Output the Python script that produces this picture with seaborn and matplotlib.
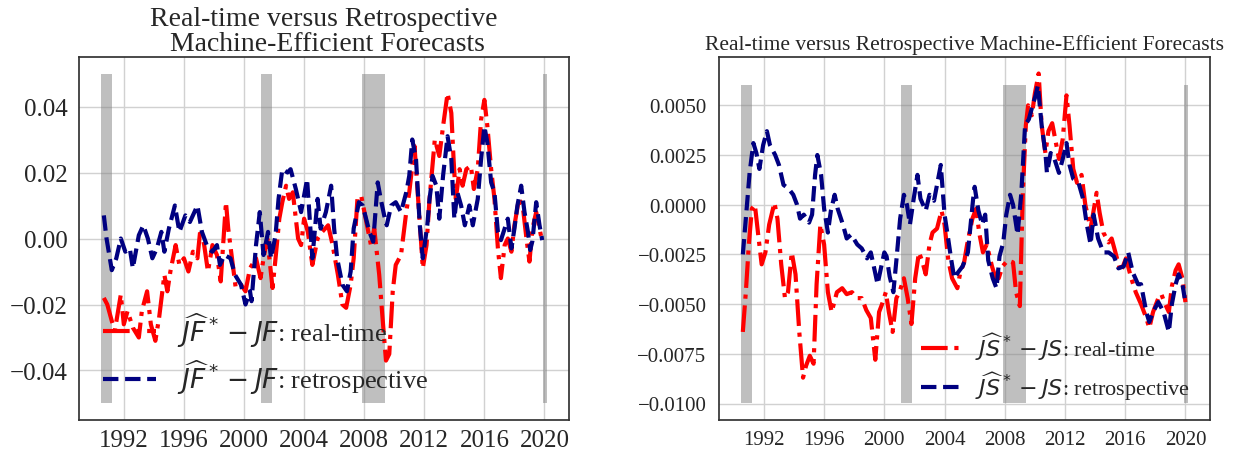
import matplotlib
matplotlib.use("Agg")
import matplotlib.pyplot as plt
import seaborn as sns

# ---------------- data ----------------
rec_start = [1990.5, 2001.1, 2007.85, 2019.9]
rec_end = [1991.2, 2001.85, 2009.4, 2020.15]

jf_rt_t = [1990.67, 1990.9, 1991.2, 1991.4, 1991.8, 1992.0, 1992.25, 1992.6, 1993.0, 1993.2,
           1993.55, 1993.8, 1994.1, 1994.35, 1994.7, 1994.9, 1995.1, 1995.45, 1995.7, 1996.0,
           1996.3, 1996.6, 1996.9, 1997.1, 1997.35, 1997.6, 1997.9, 1998.2, 1998.45, 1998.8,
           1998.95, 1999.2, 1999.45, 1999.8, 2000.1, 2000.4, 2000.8, 2001.1, 2001.3, 2001.55,
           2001.9, 2002.1, 2002.35, 2002.55, 2002.8, 2003.0, 2003.25, 2003.6, 2003.8, 2004.0,
           2004.25, 2004.55, 2004.9, 2005.2, 2005.6, 2005.9, 2006.25, 2006.55, 2006.8, 2007.1,
           2007.3, 2007.55, 2007.8, 2008.1, 2008.45, 2008.67, 2009.0, 2009.22, 2009.45, 2009.67,
           2009.9, 2010.1, 2010.45, 2010.8, 2011.0, 2011.35, 2011.56, 2011.8, 2011.9, 2012.15,
           2012.35, 2012.7, 2013.0, 2013.25, 2013.55, 2013.8, 2013.95, 2014.1, 2014.35, 2014.55,
           2014.8, 2015.1, 2015.3, 2015.56, 2015.78, 2016.0, 2016.2, 2016.45, 2016.67, 2016.9,
           2017.1, 2017.35, 2017.56, 2017.8, 2018.0, 2018.3, 2018.55, 2018.8, 2019.0, 2019.2,
           2019.45, 2019.67, 2019.85]
jf_rt_v = [-0.018, -0.020, -0.025, -0.028, -0.017, -0.026, -0.022, -0.027, -0.030, -0.022,
           -0.016, -0.026, -0.031, -0.024, -0.011, -0.016, -0.010, -0.002, -0.008, -0.006,
           -0.010, -0.004, -0.006, 0.003, -0.002, -0.010, -0.002, -0.005, -0.013, 0.011,
           0.003, -0.006, -0.015, -0.014, -0.016, -0.009, -0.006, -0.012, -0.006, 0.000,
           -0.015, -0.006, 0.006, 0.011, 0.016, 0.012, 0.014, 0.000, -0.002, 0.006,
           0.002, -0.008, 0.000, 0.002, 0.004, -0.002, -0.011, -0.020, -0.021, -0.014,
           -0.006, 0.012, 0.013, 0.006, -0.002, 0.003, -0.011, -0.024, -0.037, -0.035,
           -0.016, -0.008, -0.005, 0.008, 0.014, 0.028, 0.014, -0.002, -0.009, -0.002,
           0.012, 0.030, 0.025, 0.034, 0.044, 0.038, 0.024, 0.012, 0.021, 0.016,
           0.021, 0.022, 0.015, 0.021, 0.036, 0.042, 0.034, 0.021, 0.012, -0.003,
           -0.012, -0.002, 0.000, -0.004, 0.004, 0.012, 0.010, 0.000, -0.007, 0.003,
           0.008, 0.003, -0.001]

jf_re_t = [1990.67, 1990.85, 1991.2, 1991.5, 1991.8, 1992.1, 1992.4, 1992.6, 1993.0, 1993.3,
           1993.6, 1993.9, 1994.2, 1994.5, 1994.7, 1995.0, 1995.4, 1995.7, 1996.1, 1996.4,
           1996.9, 1997.2, 1997.6, 1997.9, 1998.2, 1998.4, 1998.7, 1999.1, 1999.4, 1999.8,
           2000.1, 2000.4, 2000.5, 2000.8, 2001.05, 2001.3, 2001.6, 2001.8, 2002.1, 2002.3,
           2002.55, 2002.9, 2003.1, 2003.45, 2003.8, 2004.0, 2004.2, 2004.55, 2004.9, 2005.1,
           2005.45, 2005.8, 2006.0, 2006.2, 2006.55, 2006.85, 2007.1, 2007.3, 2007.65, 2007.9,
           2008.35, 2008.6, 2008.9, 2009.1, 2009.33, 2009.5, 2009.8, 2010.1, 2010.45, 2010.8,
           2011.0, 2011.2, 2011.45, 2011.7, 2011.9, 2012.2, 2012.35, 2012.55, 2012.8, 2013.0,
           2013.25, 2013.55, 2013.8, 2014.0, 2014.2, 2014.45, 2014.7, 2015.0, 2015.23, 2015.56,
           2015.78, 2016.0, 2016.2, 2016.45, 2016.67, 2016.9, 2017.1, 2017.35, 2017.56, 2017.8,
           2018.0, 2018.2, 2018.45, 2018.67, 2018.9, 2019.05, 2019.2, 2019.45, 2019.67, 2019.85]
jf_re_v = [0.007, 0.000, -0.0096, -0.006, 0.000, -0.004, -0.003, -0.009, 0.001, 0.004,
           0.000, -0.006, -0.003, 0.002, -0.004, 0.003, 0.010, 0.002, 0.007, 0.005,
           0.010, 0.002, -0.003, -0.004, -0.002, -0.008, -0.005, -0.006, -0.011, -0.014,
           -0.020, -0.016, -0.019, -0.002, 0.008, -0.005, 0.002, -0.006, 0.001, 0.012,
           0.021, 0.020, 0.021, 0.015, 0.008, 0.013, 0.018, -0.006, 0.012, 0.003,
           0.008, 0.016, 0.003, -0.006, -0.014, -0.016, -0.010, 0.003, 0.011, 0.010,
           0.002, -0.001, 0.017, 0.012, 0.007, 0.004, 0.010, 0.011, 0.008, 0.014,
           0.019, 0.030, 0.024, 0.004, -0.006, 0.004, 0.012, 0.019, 0.016, 0.006,
           0.019, 0.031, 0.024, 0.006, 0.014, 0.010, 0.004, 0.010, 0.004, 0.012,
           0.024, 0.034, 0.029, 0.017, 0.014, 0.002, -0.0005, 0.003, 0.006, -0.003,
           0.003, 0.010, 0.016, 0.008, 0.002, -0.0035, -0.0007, 0.011, 0.004, -0.0005]

js_rt_t = [1990.6, 1990.8, 1991.0, 1991.2, 1991.4, 1991.65, 1991.85, 1992.1, 1992.35, 1992.7,
           1992.9, 1993.15, 1993.4, 1993.6, 1993.85, 1994.1, 1994.35, 1994.6, 1994.8, 1995.05,
           1995.3, 1995.5, 1995.75, 1996.0, 1996.25, 1996.5, 1996.85, 1997.2, 1997.5, 1997.85,
           1998.2, 1998.5, 1998.8, 1999.1, 1999.4, 1999.65, 1999.85, 2000.1, 2000.3, 2000.55,
           2000.8, 2001.0, 2001.3, 2001.55, 2001.8, 2002.05, 2002.3, 2002.5, 2002.75, 2003.0,
           2003.2, 2003.5, 2003.8, 2004.0, 2004.25, 2004.5, 2004.85, 2005.05, 2005.3, 2005.5,
           2005.85, 2006.1, 2006.3, 2006.55, 2006.8, 2007.15, 2007.4, 2007.6, 2007.85, 2008.2,
           2008.55, 2008.75, 2009.0, 2009.2, 2009.4, 2009.55, 2009.8, 2010.0, 2010.25, 2010.45,
           2010.7, 2010.9, 2011.15, 2011.4, 2011.6, 2011.85, 2012.1, 2012.3, 2012.55, 2012.8,
           2013.1, 2013.35, 2013.7, 2014.1, 2014.3, 2014.55, 2014.9, 2015.1, 2015.35, 2015.7,
           2016.05, 2016.4, 2016.7, 2017.05, 2017.4, 2017.6, 2017.85, 2018.2, 2018.4, 2018.65,
           2018.9, 2019.1, 2019.35, 2019.55, 2019.8, 2020.0]
js_rt_v = [-0.0064, -0.0044, -0.0020, -0.0002, 0.0000, -0.0017, -0.0030, -0.0024, -0.0010, 0.0001,
           -0.0007, -0.0030, -0.0047, -0.0044, -0.0024, -0.0035, -0.0064, -0.0087, -0.0081, -0.0076,
           -0.0080, -0.0040, -0.0010, -0.0020, -0.0044, -0.0054, -0.0044, -0.0042, -0.0045, -0.0044,
           -0.0047, -0.0047, -0.0053, -0.0057, -0.0078, -0.0054, -0.0050, -0.0044, -0.0054, -0.0064,
           -0.0047, -0.0044, -0.0037, -0.0047, -0.0060, -0.0037, -0.0024, -0.0028, -0.0035, -0.0020,
           -0.0014, -0.0012, -0.0003, -0.0010, -0.0028, -0.0037, -0.0042, -0.0034, -0.0029, -0.0020,
           -0.0007, -0.0002, -0.0014, -0.0024, -0.0020, -0.0031, -0.0037, -0.0037, -0.0031, -0.0028,
           -0.0029, -0.0044, -0.0051, 0.0006, 0.0040, 0.0050, 0.0045, 0.0056, 0.0066, 0.0040,
           0.0026, 0.0037, 0.0041, 0.0031, 0.0023, 0.0033, 0.0055, 0.0040, 0.0018, 0.0011,
           0.0015, 0.0000, -0.0012, 0.0006, -0.0004, -0.0014, -0.0019, -0.0017, -0.0024, -0.0034,
           -0.0027, -0.0037, -0.0044, -0.0050, -0.0057, -0.0062, -0.0054, -0.0047, -0.0045, -0.0050,
           -0.0054, -0.0041, -0.0033, -0.0030, -0.0037, -0.0049]

js_re_t = [1990.6, 1990.8, 1991.05, 1991.3, 1991.5, 1991.7, 1991.95, 1992.2, 1992.4, 1992.75,
           1993.0, 1993.3, 1993.65, 1993.95, 1994.2, 1994.4, 1994.65, 1995.0, 1995.2, 1995.4,
           1995.55, 1995.8, 1996.0, 1996.25, 1996.45, 1996.7, 1996.9, 1997.25, 1997.5, 1997.8,
           1998.2, 1998.5, 1998.85, 1999.1, 1999.3, 1999.55, 1999.8, 2000.0, 2000.15, 2000.35,
           2000.6, 2000.8, 2001.05, 2001.3, 2001.5, 2001.7, 2001.95, 2002.2, 2002.4, 2002.75,
           2003.0, 2003.3, 2003.55, 2003.75, 2004.0, 2004.2, 2004.45, 2004.65, 2004.9, 2005.2,
           2005.55, 2005.9, 2006.0, 2006.25, 2006.5, 2006.7, 2006.9, 2007.2, 2007.45, 2007.65,
           2007.9, 2008.1, 2008.35, 2008.55, 2008.85, 2009.1, 2009.35, 2009.6, 2009.85, 2010.05,
           2010.2, 2010.45, 2010.7, 2010.8, 2011.05, 2011.3, 2011.6, 2011.85, 2012.1, 2012.3,
           2012.55, 2012.9, 2013.2, 2013.45, 2013.7, 2013.9, 2014.2, 2014.55, 2014.9, 2015.25,
           2015.55, 2015.9, 2016.2, 2016.5, 2016.85, 2017.05, 2017.4, 2017.6, 2017.85, 2018.2,
           2018.55, 2018.9, 2019.1, 2019.35, 2019.55, 2019.8, 2019.95]
js_re_v = [-0.0025, -0.0007, 0.0016, 0.0031, 0.0026, 0.0018, 0.0030, 0.0037, 0.0030, 0.0025,
           0.0020, 0.0010, 0.0008, 0.0005, 0.0000, -0.0007, -0.0005, -0.0009, -0.0005, 0.0015,
           0.0025, 0.0015, -0.0002, -0.0014, -0.0003, 0.0005, -0.0002, -0.0010, -0.0017, -0.0015,
           -0.0020, -0.0022, -0.0027, -0.0024, -0.0031, -0.0040, -0.0031, -0.0024, -0.0026, -0.0036,
           -0.0044, -0.0028, -0.0007, 0.0005, 0.0000, -0.0010, 0.0003, 0.0015, 0.0003, -0.0003,
           0.0005, 0.0002, 0.0012, 0.0020, -0.0005, -0.0015, -0.0028, -0.0037, -0.0034, -0.0031,
           -0.0024, 0.0003, 0.0009, -0.0003, -0.0010, -0.0005, -0.0028, -0.0037, -0.0042, -0.0026,
           -0.0019, -0.0005, 0.0005, 0.0000, -0.0015, 0.0006, 0.0040, 0.0043, 0.0050, 0.0055,
           0.0060, 0.0040, 0.0026, 0.0016, 0.0026, 0.0023, 0.0016, 0.0023, 0.0031, 0.0020,
           0.0013, 0.0011, 0.0003, -0.0010, -0.0020, -0.0005, -0.0017, -0.0024, -0.0024, -0.0026,
           -0.0032, -0.0031, -0.0024, -0.0034, -0.0040, -0.0040, -0.0054, -0.0059, -0.0054, -0.0049,
           -0.0054, -0.0064, -0.0050, -0.0040, -0.0035, -0.0040, -0.0047]

left_band = (-0.05, 0.05)
right_band = (-0.01, 0.006)
xticks = [1992, 1996, 2000, 2004, 2008, 2012, 2016, 2020]

title_left = "Real-time versus Retrospective\n Machine-Efficient Forecasts"
title_right = "Real-time versus Retrospective Machine-Efficient Forecasts"
lab_jf_rt = r"$\widehat{JF}^* - JF$: real-time"
lab_jf_re = r"$\widehat{JF}^* - JF$: retrospective"
lab_js_rt = r"$\widehat{JS}^* - JS$: real-time"
lab_js_re = r"$\widehat{JS}^* - JS$: retrospective"

# ---------------- style ----------------
sns.set_theme(style="whitegrid")
plt.rcParams.update({
    "font.family": ["Liberation Serif", "DejaVu Serif"],
    "mathtext.fontset": "dejavusans",
    "axes.edgecolor": "0.2",
    "axes.linewidth": 1.25,
    "grid.color": "0.82",
    "text.color": "0.15",
    "xtick.color": "0.15",
    "ytick.color": "0.15",
})

fig = plt.figure(figsize=(12.38, 4.52), dpi=100)
axL = fig.add_axes([79 / 1238, 1 - 421 / 452, 490 / 1238, 363 / 452])
axR = fig.add_axes([719 / 1238, 1 - 421 / 452, 491 / 1238, 363 / 452])


def draw(ax, band, rt_t, rt_v, re_t, re_v, lab_rt, lab_re):
    for s, e in zip(rec_start, rec_end):
        ax.fill_between([s, e], band[0], band[1], color="gray", alpha=0.5, lw=0)
    sns.lineplot(x=rt_t, y=rt_v, ax=ax, color="red", linestyle="-.", linewidth=3,
                 label=lab_rt, sort=False)
    sns.lineplot(x=re_t, y=re_v, ax=ax, color="navy", linestyle="--", linewidth=3,
                 label=lab_re, sort=False)
    ax.set_xticks(xticks)
    for sp in ax.spines.values():
        sp.set_visible(True)
        sp.set_color("0.2")


draw(axL, left_band, jf_rt_t, jf_rt_v, jf_re_t, jf_re_v, lab_jf_rt, lab_jf_re)
draw(axR, right_band, js_rt_t, js_rt_v, js_re_t, js_re_v, lab_js_rt, lab_js_re)

axL.tick_params(axis="x", labelsize=18, pad=0.5)
axL.tick_params(axis="y", labelsize=18, pad=2)
axR.tick_params(axis="x", labelsize=15, pad=1.5)
axR.tick_params(axis="y", labelsize=15, pad=3)
axL.set_title(title_left, fontsize=20, pad=5, linespacing=1.0)
axR.set_title(title_right, fontsize=15.5, pad=6)

axL.legend(loc="lower left", bbox_to_anchor=(0.0, 0.0), frameon=False, fontsize=19,
           labelspacing=0.35, handlelength=2.0, handletextpad=0.8)
axR.legend(loc="lower right", bbox_to_anchor=(1.0, -0.005), frameon=False, fontsize=16,
           labelspacing=0.35, handlelength=2.0, handletextpad=0.45)

fig.savefig("out.png", dpi=100)
